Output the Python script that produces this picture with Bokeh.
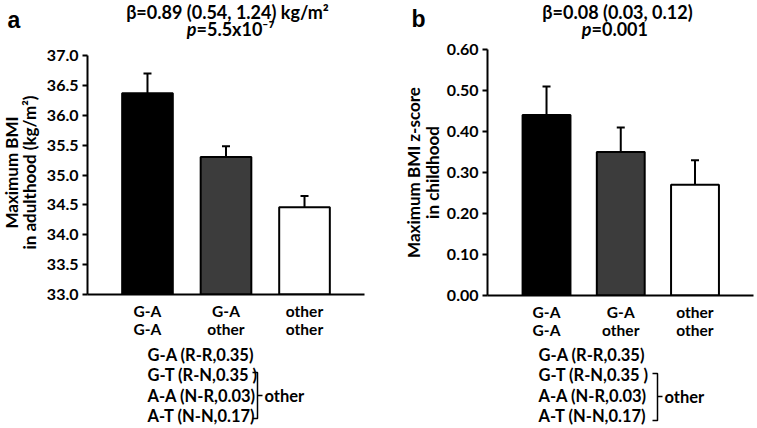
import math
from bokeh.plotting import figure
from bokeh.layouts import column, row
from bokeh.models import (ColumnDataSource, Whisker, TeeHead, FixedTicker,
                          NumeralTickFormatter, Range1d)
from bokeh.core.properties import value
from bokeh.embed import file_html
from bokeh.resources import INLINE

# ---------------- data ----------------
categories = ["G-A\nG-A", "G-A\nother", "other\nother"]
bar_colors = ["#000000", "#3c3c3c", "#ffffff"]

adult_bmi = [36.37, 35.30, 34.46]
adult_bmi_upper = [36.70, 35.48, 34.65]
adult_ticks = [33.0, 33.5, 34.0, 34.5, 35.0, 35.5, 36.0, 36.5, 37.0]

child_z = [0.44, 0.35, 0.27]
child_z_upper = [0.51, 0.41, 0.33]
child_ticks = [0.0, 0.1, 0.2, 0.3, 0.4, 0.5, 0.6]

haplo_lines = ["G-A (R-R,0.35)", "G-T (R-N,0.35 )", "A-A (N-R,0.03)", "A-T (N-N,0.17)"]
bracket_label = "other"

FONT = "Lato"

# ---------------- layout (page pixels) ----------------
TOP_H = 40          # title strip
BAR_BOTTOM = 344    # bar chart strip ends here
BAR_H = BAR_BOTTOM - TOP_H
BOT_H = 82          # haplotype legend strip
W_A, W_B = 372, 383


def text_fig(x0, w, y0, h):
    f = figure(width=w, height=h, x_range=Range1d(x0, x0 + w),
               y_range=Range1d(y0 + h, y0), x_axis_type=None, y_axis_type=None,
               output_backend="svg", toolbar_location=None, min_border=0)
    f.outline_line_color = None
    return f


def txt(f, x, y, t, size="16.5px", style="bold", align="center", font=FONT, angle=0):
    f.text(x=[x], y=[y], text=[t], text_font=value(font), text_font_size=size,
           text_font_style=style, text_align=align, text_baseline="middle",
           text_color="black", angle=angle)


def ylab_fig(x0, w, ft, fb, lines, xs, yc):
    """narrow strip holding the rotated two-line y-axis title"""
    f = figure(width=w, height=BAR_H, x_range=Range1d(x0, x0 + w),
               y_range=Range1d(TOP_H + fb, TOP_H + ft), x_axis_type=None, y_axis_type=None,
               output_backend="svg", toolbar_location=None,
               min_border_left=0, min_border_right=0,
               min_border_top=ft, min_border_bottom=BAR_H - fb)
    f.outline_line_color = None
    for t, x in zip(lines, xs):
        txt(f, x, yc, t, size="17px", angle=math.pi / 2)
    return f


def bar_fig(w, fl, fr, ft, fb, xr, yr, values, uppers, ticks, fmt):
    p = figure(width=w, height=BAR_H, x_range=xr, y_range=yr,
               output_backend="svg", toolbar_location=None,
               min_border_left=fl, min_border_right=w - fr,
               min_border_top=ft, min_border_bottom=BAR_H - fb)
    p.outline_line_color = None
    p.xgrid.visible = False
    p.ygrid.visible = False

    xs = list(range(len(values)))
    src = ColumnDataSource(dict(x=xs, top=values, upper=uppers, color=bar_colors))
    p.vbar(x="x", top="top", bottom=yr[0], width=0.645, source=src,
           fill_color="color", line_color="black", line_width=2)
    p.add_layout(Whisker(source=src, base="x", lower="top", upper="upper",
                         line_width=2, line_color="black", lower_head=None,
                         upper_head=TeeHead(size=8, line_width=2, line_color="black")))

    p.yaxis.ticker = FixedTicker(ticks=ticks)
    p.yaxis.formatter = NumeralTickFormatter(format=fmt)
    p.yaxis.axis_line_width = 2
    p.yaxis.major_tick_line_width = 2
    p.yaxis.major_tick_out = 5
    p.yaxis.major_tick_in = 0
    p.yaxis.minor_tick_line_color = None
    p.yaxis.major_label_text_font = FONT
    p.yaxis.major_label_text_font_style = "bold"
    p.yaxis.major_label_text_font_size = "16px"
    p.yaxis.major_label_text_color = "black"
    p.yaxis.major_label_standoff = 4

    p.xaxis.ticker = FixedTicker(ticks=xs)
    p.xaxis.major_label_overrides = {i: c for i, c in enumerate(categories)}
    p.xaxis.axis_line_width = 2
    p.xaxis.major_tick_line_color = None
    p.xaxis.minor_tick_line_color = None
    p.xaxis.major_label_text_font = FONT
    p.xaxis.major_label_text_font_style = "bold"
    p.xaxis.major_label_text_font_size = "15.5px"
    p.xaxis.major_label_text_line_height = 1.0
    p.xaxis.major_label_text_color = "black"
    p.xaxis.major_label_standoff = 1
    return p


def legend_fig(x0, w, text_left, text_ys, br_x, br_top, br_bot, br_mid):
    f = text_fig(x0, w, BAR_BOTTOM, BOT_H)
    for t, y in zip(haplo_lines, text_ys):
        txt(f, text_left, y, t, align="left")
    f.multi_line(xs=[[br_x - 5, br_x, br_x, br_x - 5], [br_x, br_x + 5]],
                 ys=[[br_top, br_top, br_bot, br_bot], [br_mid, br_mid]],
                 line_color="black", line_width=1.5)
    txt(f, br_x + 7, br_mid, bracket_label, align="left")
    return f


# ---- panel a ----
YL_A = 40
topA = text_fig(0, W_A, 0, TOP_H)
txt(topA, 7, 19, "a", size="23px", align="left", font="Liberation Sans")
txt(topA, 227, 11, "β=0.89 (0.54, 1.24) kg/m²", size="18px")
txt(topA, 196, 28, "p", size="18px", style="bold italic", align="right")
txt(topA, 196, 28, "=5.5x10⁻⁷", size="18px", align="left")

ylA = ylab_fig(0, YL_A, 55 - TOP_H, 294 - TOP_H,
               ["Maximum BMI", "in adulthood (kg/m²)"], [11, 29], 172)
barA = bar_fig(W_A - YL_A, 87 - YL_A, 364 - YL_A, 55 - TOP_H, 294 - TOP_H,
               (-0.764, 2.764), (33.0, 37.0),
               adult_bmi, adult_bmi_upper, adult_ticks, "0.0")
botA = legend_fig(0, W_A, 147, [354, 374, 395, 415], 257, 372, 418, 395)

# ---- panel b ----
YL_B = 70
topB = text_fig(W_A, W_B, 0, TOP_H)
txt(topB, 411, 18, "b", size="23px", align="left", font="Liberation Sans")
txt(topB, 617, 11, "β=0.08 (0.03, 0.12)", size="18px")
txt(topB, 591, 28, "p", size="18px", style="bold italic", align="right")
txt(topB, 591, 28, "=0.001", size="18px", align="left")

ylB = ylab_fig(W_A, YL_B, 49 - TOP_H, 295 - TOP_H,
               ["Maximum BMI z-score", "in childhood"], [413, 432], 172)
barB = bar_fig(W_B - YL_B, 487 - W_A - YL_B, 753 - W_A - YL_B, 49 - TOP_H, 295 - TOP_H,
               (-0.795, 2.788), (0.0, 0.6),
               child_z, child_z_upper, child_ticks, "0.00")
botB = legend_fig(W_A, W_B, 538, [354, 374, 395, 415], 657, 373, 420, 396)

colA = column(row(topA), row(ylA, barA), row(botA))
colB = column(row(topB), row(ylB, barB), row(botB))
layout = row(colA, colB)
open("out.html", "w").write(file_html(layout, INLINE))
